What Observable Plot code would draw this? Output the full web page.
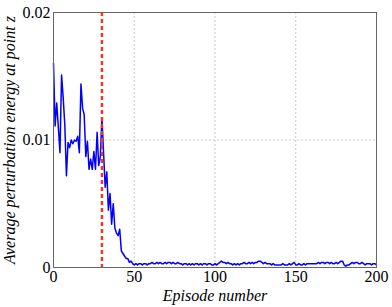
<!DOCTYPE html>
<html>
<head>
<meta charset="utf-8">
<script src="https://cdn.jsdelivr.net/npm/d3@7"></script>
<script src="https://cdn.jsdelivr.net/npm/@observablehq/plot@0.6"></script>
<style>
  html, body { margin: 0; padding: 0; background: white; }
</style>
</head>
<body>
<div id="chart"></div>
<script>
const xTicks = [0, 50, 100, 150, 200];
const yTicks = [0, 0.01, 0.02];
const yTickLabels = ["0", "0.01", "0.02"];
const markerEpisode = [30];
const xLabel = "Episode number";
const yLabel = "Average perturbation energy at point z";

const energy = [
  0.0160, 0.0111, 0.0129, 0.0110, 0.0090, 0.0151, 0.0133, 0.0112, 0.0072, 0.0098,
  0.0094, 0.0100, 0.0097, 0.0100, 0.0099, 0.0103, 0.0090, 0.0144, 0.0125, 0.0120,
  0.0087, 0.0099, 0.0077, 0.0085, 0.0077, 0.0091, 0.0077, 0.0106, 0.0080, 0.0087,
  0.0117, 0.0090, 0.0063, 0.0075, 0.0045, 0.0058, 0.0034, 0.0050, 0.0031, 0.0027,
  0.0025, 0.0030, 0.0013, 0.0011, 0.0009, 0.0007, 0.0007, 0.0004, 0.0005, 0.0003,
  0.0002, 0.0003, 0.0002, 0.0003, 0.0003, 0.0002, 0.0003, 0.0003, 0.0002, 0.0003,
  0.0003, 0.0004, 0.0003, 0.0003, 0.0004, 0.0003, 0.0004, 0.0003, 0.0003, 0.0004,
  0.0003, 0.0004, 0.0004, 0.0003, 0.0004, 0.0003, 0.0003, 0.0004, 0.0003, 0.0003,
  0.0002, 0.0003, 0.0003, 0.0002, 0.0003, 0.0002, 0.0003, 0.0002, 0.0003, 0.0003,
  0.0002, 0.0003, 0.0002, 0.0003, 0.0003, 0.0002, 0.0003, 0.0003, 0.0002, 0.0002,
  0.0003, 0.0002, 0.0003, 0.0004, 0.0005, 0.0004, 0.0004, 0.0003, 0.0004, 0.0003,
  0.0003, 0.0002, 0.0003, 0.0002, 0.0003, 0.0002, 0.0003, 0.0003, 0.0004, 0.0003,
  0.0003, 0.0004, 0.0003, 0.0004, 0.0003, 0.0004, 0.0004, 0.0005, 0.0005, 0.0004,
  0.0003, 0.0004, 0.0003, 0.0003, 0.0003, 0.0002, 0.0003, 0.0002, 0.0002, 0.0002,
  0.0002, 0.0002, 0.0003, 0.0002, 0.0002, 0.0002, 0.0003, 0.0002, 0.0003, 0.0004,
  0.0002, 0.0002, 0.0003, 0.0002, 0.0002, 0.0003, 0.0002, 0.0003, 0.0003, 0.0003,
  0.0003, 0.0003, 0.0003, 0.0003, 0.0004, 0.0003, 0.0004, 0.0004, 0.0003, 0.0004,
  0.0004, 0.0003, 0.0004, 0.0003, 0.0003, 0.0004, 0.0003, 0.0004, 0.0005, 0.0005,
  0.0002, 0.0001, 0.0002, 0.0002, 0.0003, 0.0004, 0.0003, 0.0004, 0.0004, 0.0003,
  0.0003, 0.0004, 0.0003, 0.0002, 0.0003, 0.0003, 0.0003, 0.0002, 0.0003, 0.0003,
  0.0002
];

const data = energy.map((v, i) => ({episode: i, value: v}));
const serif = "Liberation Serif";

const chart = Plot.plot({
  width: 392,
  height: 307,
  marginLeft: 53,
  marginRight: 16,
  marginTop: 12,
  marginBottom: 40,
  style: {fontFamily: serif, fontSize: "16px", background: "white", color: "#000"},
  x: {domain: [0, 200]},
  y: {domain: [0, 0.02]},
  marks: [
    Plot.gridX(xTicks.slice(1, -1), {stroke: "#c8c8c8", strokeOpacity: 1, strokeDasharray: "2,2"}),
    Plot.gridY([0.01], {stroke: "#c8c8c8", strokeOpacity: 1, strokeDasharray: "2,2"}),
    Plot.axisX(xTicks, {tickSize: 0, tickPadding: 3, label: null, fontSize: 16, fontFamily: serif, fill: "#000"}),
    Plot.axisY(yTicks, {tickSize: 0, tickPadding: 3, label: null, fontSize: 16, fontFamily: serif, fill: "#000",
      tickFormat: (d) => yTickLabels[yTicks.indexOf(d)]}),
    Plot.line(data, {x: "episode", y: "value", stroke: "#0000ff", strokeWidth: 1.5}),
    Plot.ruleX(markerEpisode, {stroke: "#ee3a24", strokeWidth: 2.5, strokeDasharray: "4,3"}),
    Plot.frame({stroke: "#666", strokeWidth: 1}),
    Plot.text([xLabel], {frameAnchor: "bottom", textAnchor: "middle", lineAnchor: "middle", dy: 28, fontSize: 16, fontStyle: "italic", fontFamily: serif, fill: "#000"}),
    Plot.text([yLabel], {frameAnchor: "left", textAnchor: "middle", lineAnchor: "middle", dx: -44, rotate: -90, fontSize: 16, fontStyle: "italic", fontFamily: serif, fill: "#000"})
  ]
});
document.getElementById("chart").appendChild(chart);
</script>
</body>
</html>
